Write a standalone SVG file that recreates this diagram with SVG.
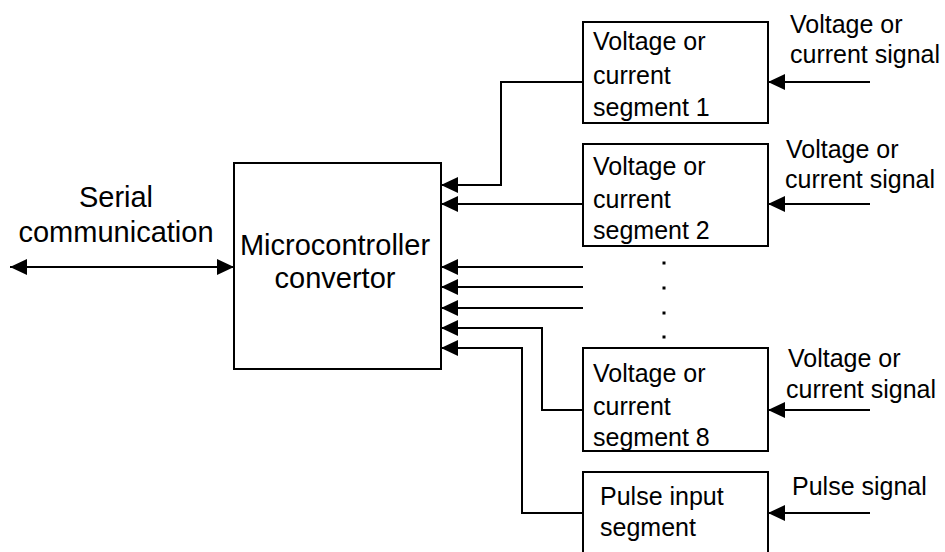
<svg xmlns="http://www.w3.org/2000/svg" width="945" height="552" viewBox="0 0 945 552">
<style>
.box{fill:#fff;stroke:#000;stroke-width:2}
.t{font-family:"Liberation Sans",Arial,sans-serif;font-size:25px;fill:#000}
.big{font-family:"Liberation Sans",Arial,sans-serif;font-size:29px;fill:#000}
.c{fill:none;stroke:#000;stroke-width:2}
</style>
<defs>
<marker id="ah" markerUnits="userSpaceOnUse" viewBox="0 0 17 16" markerWidth="17" markerHeight="16" refX="17" refY="8" orient="auto-start-reverse">
<path d="M0,0 L17,8 L0,16 z" fill="#000"/>
</marker>
</defs>
<rect width="945" height="552" fill="#fff"/>
<g id="connectors">
<path class="c" d="M583,82 H501 V185 H441" marker-end="url(#ah)"/>
<path class="c" d="M583,204 H441" marker-end="url(#ah)"/>
<path class="c" d="M583,267 H441" marker-end="url(#ah)"/>
<path class="c" d="M583,287 H441" marker-end="url(#ah)"/>
<path class="c" d="M583,308 H441" marker-end="url(#ah)"/>
<path class="c" d="M583,410 H542 V328 H441" marker-end="url(#ah)"/>
<path class="c" d="M583,513 H522 V348 H441" marker-end="url(#ah)"/>
<path class="c" d="M10,267 H234" marker-start="url(#ah)" marker-end="url(#ah)"/>
<path class="c" d="M870,82 H768" marker-end="url(#ah)"/>
<path class="c" d="M870,204 H768" marker-end="url(#ah)"/>
<path class="c" d="M870,410 H768" marker-end="url(#ah)"/>
<path class="c" d="M870,513 H768" marker-end="url(#ah)"/>
</g>
<g id="serial-label">
<text class="big" x="116" y="207" text-anchor="middle">Serial</text>
<text class="big" x="116" y="242" text-anchor="middle">communication</text>
</g>
<g id="mcu">
<rect class="box" x="234" y="163" width="207" height="206"/>
<text class="big" x="335" y="255" text-anchor="middle">Microcontroller</text>
<text class="big" x="335" y="288" text-anchor="middle">convertor</text>
</g>
<g id="seg1">
<rect class="box" x="583" y="22" width="185" height="101"/>
<text class="t" x="593" y="50">Voltage or</text>
<text class="t" x="593" y="84">current</text>
<text class="t" x="593" y="116">segment 1</text>
</g>
<g id="seg2">
<rect class="box" x="583" y="144" width="185" height="102"/>
<text class="t" x="593" y="175">Voltage or</text>
<text class="t" x="593" y="208">current</text>
<text class="t" x="593" y="239">segment 2</text>
</g>
<g id="dots">
<rect x="662.5" y="261.5" width="3" height="3"/>
<rect x="662.5" y="286.5" width="3" height="3"/>
<rect x="662.5" y="311.5" width="3" height="3"/>
<rect x="662.5" y="335.5" width="3" height="3"/>
</g>
<g id="seg8">
<rect class="box" x="583" y="348" width="185" height="103"/>
<text class="t" x="593" y="382">Voltage or</text>
<text class="t" x="593" y="415">current</text>
<text class="t" x="593" y="446">segment 8</text>
</g>
<g id="pulse">
<rect class="box" x="583" y="472" width="185" height="100"/>
<text class="t" x="600" y="505">Pulse input</text>
<text class="t" x="600" y="536">segment</text>
</g>
<g id="sig1">
<text class="t" x="790" y="33">Voltage or</text>
<text class="t" x="790" y="63">current signal</text>
</g>
<g id="sig2">
<text class="t" x="786" y="158">Voltage or</text>
<text class="t" x="785" y="188">current signal</text>
</g>
<g id="sig8">
<text class="t" x="788" y="367">Voltage or</text>
<text class="t" x="786" y="398">current signal</text>
</g>
<g id="sigp">
<text class="t" x="792" y="495">Pulse signal</text>
</g>
</svg>
